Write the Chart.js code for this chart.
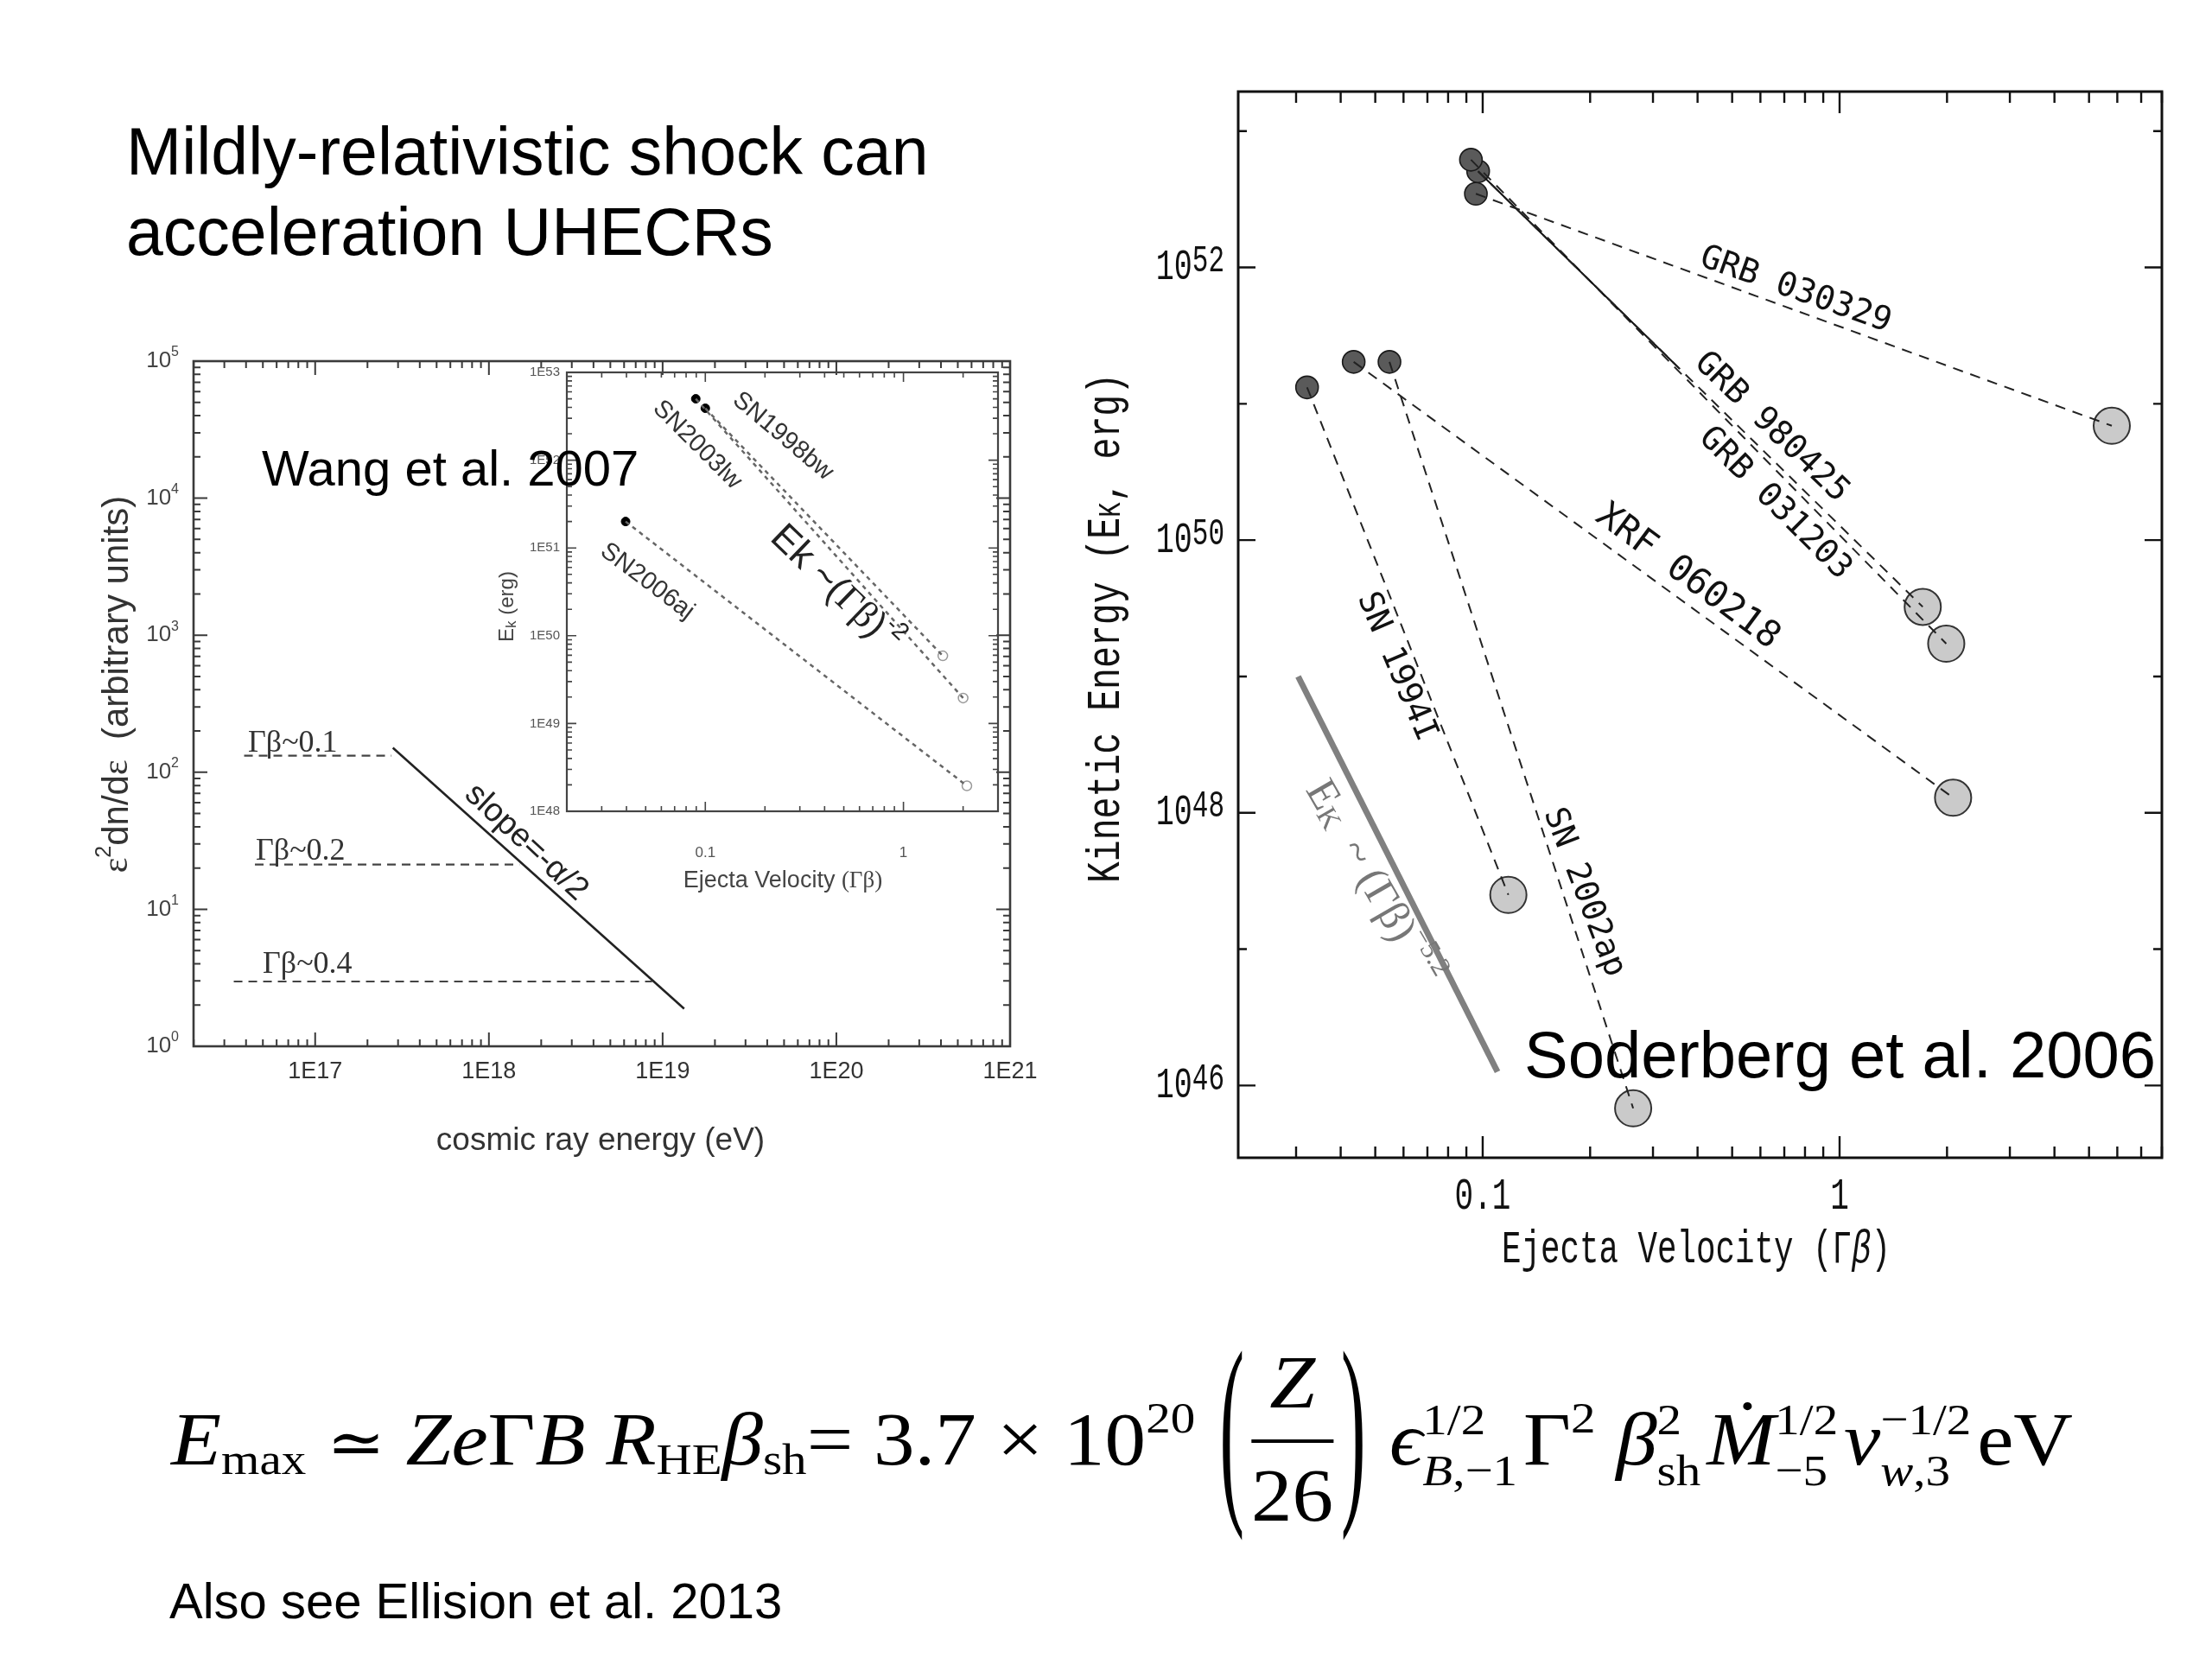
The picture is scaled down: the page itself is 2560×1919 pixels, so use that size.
<!DOCTYPE html>
<html>
<head>
<meta charset="utf-8">
<script src="https://cdn.jsdelivr.net/npm/chart.js@4.4.1/dist/chart.umd.min.js"></script>
<style>
html,body{margin:0;padding:0;background:#fff;}
body{width:2560px;height:1919px;position:relative;overflow:hidden;}
canvas{position:absolute;left:0;top:0;}
.txt{position:absolute;top:0;white-space:nowrap;font-family:"Liberation Sans",Arial,sans-serif;color:#000;line-height:1;}
#formula{font-family:"Liberation Serif","DejaVu Serif",serif;font-size:86px;transform-origin:0 0;}
#formula .sb{font-size:0.6em;vertical-align:-0.22em;}
#formula .sp{font-size:0.6em;vertical-align:0.72em;}
#formula .ss{display:inline-block;font-size:0.6em;line-height:1.15;vertical-align:-0.47em;text-align:left;margin-right:0.12em;}
#formula .ss>span{display:block;}
#formula .eq{font-size:0.85em;}
#formula .par{display:inline-block;font-size:0.6em;line-height:1;transform:translateY(-27px) scale(1.5,4.67);margin:0 8px;}
#formula .frac{display:inline-block;vertical-align:-65px;text-align:center;line-height:86px;margin:0 4px;}
#formula .num{display:block;padding:0 4px 23px;border-bottom:4px solid #000;}
#formula .den{display:block;padding-top:18px;}
</style>
</head>
<body>
<canvas id="cLeft" width="2560" height="1919"></canvas>
<canvas id="cInset" width="2560" height="1919"></canvas>
<canvas id="cRight" width="2560" height="1919"></canvas>

<div class="txt" data-base="202" style="left:146px;font-size:77px;">Mildly-relativistic shock can</div>
<div class="txt" data-base="295" style="left:146px;font-size:77px;">acceleration UHECRs</div>
<div class="txt" data-base="562" style="left:303px;font-size:58px;">Wang et al. 2007</div>
<div class="txt" data-base="1247" style="left:1764px;font-size:76px;">Soderberg et al. 2006</div>
<div class="txt" data-base="1873" style="left:196px;font-size:58px;">Also see Ellision et al. 2013</div>
<div class="txt" id="formula" data-base="1695" style="left:198px;"><i>E</i><span class="sb">max</span> <span class="eq">≃</span> <i>Ze</i>Γ<i>B</i> <i>R</i><span class="sb">HE</span><i>β</i><span class="sb">sh</span>= 3.7 × 10<span class="sp">20</span> <span class="par">(</span><span class="frac"><span class="num"><i>Z</i></span><span class="den">26</span></span><span class="par">)</span> <i>ϵ</i><span class="ss"><span>1/2</span><span><i>B</i>,−1</span></span>Γ<span class="sp">2</span> <i>β</i><span class="ss"><span>2</span><span>sh</span></span><i>Ṁ</i><span class="ss"><span>1/2</span><span>−5</span></span><i>v</i><span class="ss"><span>−1/2</span><span><i>w</i>,3</span></span>eV</div>

<script>
// ---------------- DATA ----------------
// Left panel (Wang et al. 2007): cosmic-ray spectra
const energyTicks = [1e17, 1e18, 1e19, 1e20, 1e21];
const energyTickLabels = ['1E17', '1E18', '1E19', '1E20', '1E21'];
const spectrumTicks = [1, 10, 100, 1000, 1e4, 1e5];
const spectrumTickExps = ['0', '1', '2', '3', '4', '5'];
const gb01Energy = [3.9e16, 2.75e17];
const gb01Flux = [132, 132];
const gb02Energy = [4.5e16, 1.5e18];
const gb02Flux = [21.2, 21.2];
const gb04Energy = [3.4e16, 8.7e18];
const gb04Flux = [2.97, 2.97];
const slopeEnergy = [2.8e17, 1.33e19];
const slopeFlux = [151, 1.88];

// Inset (Wang et al. 2007): Ek vs ejecta velocity
const insetVelTicks = [0.1, 1];
const insetVelTickLabels = ['0.1', '1'];
const insetEkTicks = [1e48, 1e49, 1e50, 1e51, 1e52, 1e53];
const insetEkTickLabels = ['1E48', '1E49', '1E50', '1E51', '1E52', '1E53'];
const sn1998bwVel = [0.1, 1.58];
const sn1998bwEk = [3.9e52, 5.9e49];
const sn2003lwVel = [0.0895, 2.0];
const sn2003lwEk = [5.0e52, 1.95e49];
const sn2006ajVel = [0.0396, 2.09];
const sn2006ajEk = [2.0e51, 1.95e48];

// Right panel (Soderberg et al. 2006)
const velTicks = [0.1, 1];
const velTickLabels = ['0.1', '1'];
const ekDecades = [1e46, 1e47, 1e48, 1e49, 1e50, 1e51, 1e52, 1e53];
const ekLabelTicks = [1e46, 1e48, 1e50, 1e52];
const ekLabelExps = ['46', '48', '50', '52'];
const grb030329Vel = [0.0957, 5.79];
const grb030329Ek = [3.47e52, 6.9e50];
const grb980425Vel = [0.0971, 1.71];
const grb980425Ek = [5.07e52, 3.24e49];
const grb980425SolidVel = [0.0971, 0.356];
const grb980425SolidEk = [5.07e52, 1.81e51];
const grb031203Vel = [0.0927, 1.99];
const grb031203Ek = [6.17e52, 1.74e49];
const xrf060218Vel = [0.0435, 2.08];
const xrf060218Ek = [2.03e51, 1.29e48];
const sn1994IVel = [0.0322, 0.118];
const sn1994IEk = [1.32e51, 2.5e47];
const sn2002apVel = [0.0548, 0.264];
const sn2002apEk = [2.03e51, 6.8e45];
const powerLawVel = [0.0304, 0.110];
const powerLawEk = [1.0e49, 1.26e46];

// ---------------- HELPERS ----------------
const SANS = '"Liberation Sans", Arial, sans-serif';
const SERIF = '"Liberation Serif", "DejaVu Serif", serif';
const MONO = '"Liberation Mono", "DejaVu Sans Mono", monospace';
const SMONO = '"DejaVu Sans Mono", monospace';

function pts(xs, ys) { return xs.map((x, i) => ({x: x, y: ys[i]})); }
function lineDs(xs, ys, color, width, dash) {
  return {data: pts(xs, ys), showLine: true, borderColor: color, borderWidth: width,
    borderDash: dash || [], pointRadius: 0, fill: false, tension: 0, order: 0};
}
function markerDs(points, r, bg, border, bw) {
  return {data: points, showLine: false, pointRadius: r, pointHoverRadius: r,
    pointBackgroundColor: bg, pointBorderColor: border, pointBorderWidth: bw, order: 1};
}
function logTicks(min, max, majorLen, minorLen) {
  const out = [];
  for (let d = Math.floor(Math.log10(min)); d <= Math.ceil(Math.log10(max)); d++) {
    for (let m = 1; m <= 9; m++) {
      const v = m * Math.pow(10, d);
      if (v < min * 0.9999 || v > max * 1.0001) continue;
      out.push([v, m === 1 ? majorLen : minorLen]);
    }
  }
  return out;
}
function rich(ctx, o) {
  ctx.save();
  ctx.translate(o.x, o.y);
  if (o.rot) ctx.rotate(o.rot * Math.PI / 180);
  if (o.stretch) ctx.scale(1, o.stretch);
  ctx.textBaseline = o.baseline || 'middle';
  ctx.textAlign = 'left';
  let w = 0;
  const parts = o.segs.map(s => {
    const f = (s.style || o.style || '') + ' ' + (s.weight || o.weight || '') + ' ' + (s.size || o.size) + 'px ' + (s.family || o.family);
    ctx.font = f;
    const m = ctx.measureText(s.t).width;
    w += m;
    return [f, m];
  });
  let cx = o.align === 'center' ? -w / 2 : (o.align === 'right' ? -w : 0);
  o.segs.forEach((s, i) => {
    ctx.font = parts[i][0];
    ctx.fillStyle = s.color || o.color || '#000';
    ctx.fillText(s.t, cx, s.dy || 0);
    cx += parts[i][1];
  });
  ctx.restore();
}
function makeFrame(cfg) {
  return {
    id: 'sciFrame',
    afterDatasetsDraw(chart) {
      const ctx = chart.ctx, a = chart.chartArea, x = chart.scales.x, y = chart.scales.y;
      ctx.save();
      ctx.strokeStyle = cfg.color;
      ctx.lineWidth = cfg.tickWidth;
      ctx.beginPath();
      cfg.xTicks.forEach(([v, len]) => {
        const p = x.getPixelForValue(v);
        ctx.moveTo(p, a.bottom); ctx.lineTo(p, a.bottom - len);
        ctx.moveTo(p, a.top); ctx.lineTo(p, a.top + len);
      });
      cfg.yTicks.forEach(([v, len]) => {
        const p = y.getPixelForValue(v);
        ctx.moveTo(a.left, p); ctx.lineTo(a.left + len, p);
        ctx.moveTo(a.right, p); ctx.lineTo(a.right - len, p);
      });
      ctx.stroke();
      ctx.lineWidth = cfg.borderWidth;
      ctx.strokeRect(a.left, a.top, a.right - a.left, a.bottom - a.top);
      (cfg.xLabels || []).forEach(l => rich(ctx, Object.assign({}, cfg.xLabelStyle, l, {x: x.getPixelForValue(l.v), y: cfg.xLabelY})));
      (cfg.yLabels || []).forEach(l => rich(ctx, Object.assign({}, cfg.yLabelStyle, l, {x: cfg.yLabelX, y: y.getPixelForValue(l.v)})));
      (cfg.texts || []).forEach(t => rich(ctx, t));
      ctx.restore();
    }
  };
}
function makeChart(id, padding, xr, yr, datasets, frame) {
  return new Chart(document.getElementById(id), {
    type: 'scatter',
    data: {datasets: datasets},
    options: {
      responsive: false, maintainAspectRatio: false, devicePixelRatio: 1, animation: false, events: [],
      layout: {padding: padding},
      scales: {
        x: {type: 'logarithmic', display: false, min: xr[0], max: xr[1], bounds: 'data'},
        y: {type: 'logarithmic', display: false, min: yr[0], max: yr[1], bounds: 'data'}
      },
      plugins: {legend: {display: false}, tooltip: {enabled: false}}
    },
    plugins: [makeFrame(frame)]
  });
}

// ---------------- LEFT PANEL ----------------
const L = {xMin: 1.995e16, xMax: 1e21, yMin: 1, yMax: 1e5};
makeChart('cLeft', {left: 224, top: 418, right: 2560 - 1169, bottom: 1919 - 1211},
  [L.xMin, L.xMax], [L.yMin, L.yMax],
  [
    lineDs(gb01Energy, gb01Flux, '#444', 2.2, [10, 7]),
    lineDs(gb02Energy, gb02Flux, '#444', 2.2, [10, 7]),
    lineDs(gb04Energy, gb04Flux, '#444', 2.2, [10, 7]),
    lineDs(slopeEnergy, slopeFlux, '#222', 2.6, [])
  ],
  {
    color: '#3a3a3a', tickWidth: 2, borderWidth: 2.6,
    xTicks: logTicks(L.xMin, L.xMax, 16, 8),
    yTicks: logTicks(L.yMin, L.yMax, 16, 8),
    xLabelY: 1241,
    xLabelStyle: {family: SANS, size: 27, color: '#333', align: 'center'},
    xLabels: energyTicks.map((v, i) => ({v: v, segs: [{t: energyTickLabels[i]}]})),
    yLabelX: 207,
    yLabelStyle: {family: SANS, size: 26, color: '#444', align: 'right'},
    yLabels: spectrumTicks.map((v, i) => ({v: v, segs: [{t: '10'}, {t: spectrumTickExps[i], size: 16, dy: -10}]})),
    texts: [
      {x: 287, y: 870, baseline: 'alphabetic', family: SERIF, size: 36, color: '#333', segs: [{t: 'Γβ~0.1'}]},
      {x: 296, y: 995, baseline: 'alphabetic', family: SERIF, size: 36, color: '#333', segs: [{t: 'Γβ~0.2'}]},
      {x: 304, y: 1126, baseline: 'alphabetic', family: SERIF, size: 36, color: '#333', segs: [{t: 'Γβ~0.4'}]},
      {x: 609, y: 975, rot: 43, align: 'center', family: SANS, size: 38, color: '#222', segs: [{t: 'slope=-α/2'}]},
      {x: 695, y: 1321, align: 'center', family: SANS, size: 37, color: '#333', segs: [{t: 'cosmic ray energy (eV)'}]},
      {x: 136, y: 792, rot: -90, align: 'center', family: SANS, size: 42, color: '#333',
        segs: [{t: 'ε', family: SERIF}, {t: '2', size: 25, dy: -15}, {t: 'dn/d'}, {t: 'ε', family: SERIF}, {t: '  (arbitrary units)'}]}
    ]
  });

// ---------------- INSET ----------------
const I = {xMin: 0.02, xMax: 3, yMin: 1e48, yMax: 1e53};
makeChart('cInset', {left: 656, top: 431, right: 2560 - 1155, bottom: 1919 - 939},
  [I.xMin, I.xMax], [I.yMin, I.yMax],
  [
    lineDs(sn1998bwVel, sn1998bwEk, '#666', 2.5, [5, 5]),
    lineDs(sn2003lwVel, sn2003lwEk, '#666', 2.5, [5, 5]),
    lineDs(sn2006ajVel, sn2006ajEk, '#666', 2.5, [5, 5]),
    markerDs([pts(sn1998bwVel, sn1998bwEk)[0], pts(sn2003lwVel, sn2003lwEk)[0], pts(sn2006ajVel, sn2006ajEk)[0]], 5, '#000', '#000', 1),
    markerDs([pts(sn1998bwVel, sn1998bwEk)[1], pts(sn2003lwVel, sn2003lwEk)[1], pts(sn2006ajVel, sn2006ajEk)[1]], 5.5, '#fff', '#999', 1.5)
  ],
  {
    color: '#444', tickWidth: 1.6, borderWidth: 2.2,
    xTicks: logTicks(I.xMin, I.xMax, 11, 6),
    yTicks: logTicks(I.yMin, I.yMax, 11, 6),
    xLabelY: 987,
    xLabelStyle: {family: SANS, size: 17, color: '#555', align: 'center'},
    xLabels: insetVelTicks.map((v, i) => ({v: v, segs: [{t: insetVelTickLabels[i]}]})),
    yLabelX: 648,
    yLabelStyle: {family: SANS, size: 15, color: '#555', align: 'right'},
    yLabels: insetEkTicks.map((v, i) => ({v: v, segs: [{t: insetEkTickLabels[i]}]})),
    texts: [
      {x: 906, y: 1020, align: 'center', family: SANS, size: 27, color: '#444', segs: [{t: 'Ejecta Velocity '}, {t: '(Γβ)', family: SERIF}]},
      {x: 587, y: 702, rot: -90, align: 'center', family: SANS, size: 24, color: '#444', segs: [{t: 'E'}, {t: 'k', size: 17, dy: 5}, {t: ' (erg)'}]},
      {x: 906, y: 505, rot: 40, align: 'center', family: SANS, size: 29, color: '#333', segs: [{t: 'SN1998bw'}]},
      {x: 807, y: 515, rot: 45, align: 'center', family: SANS, size: 29, color: '#333', segs: [{t: 'SN2003lw'}]},
      {x: 749, y: 673, rot: 37, align: 'center', family: SANS, size: 29, color: '#333', segs: [{t: 'SN2006aj'}]},
      {x: 967, y: 682, rot: 44, align: 'center', family: SANS, size: 44, color: '#222',
        segs: [{t: 'Ek ~('}, {t: 'Γβ', family: SERIF}, {t: ')'}, {t: '-2', size: 28, dy: -16}]}
    ]
  });

// ---------------- RIGHT PANEL ----------------
const R = {xMin: 0.02065, xMax: 8.0, yMin: 2.95e45, yMax: 1.95e53};
const starts = [grb030329Vel, grb980425Vel, grb031203Vel, xrf060218Vel, sn1994IVel, sn2002apVel];
const startsEk = [grb030329Ek, grb980425Ek, grb031203Ek, xrf060218Ek, sn1994IEk, sn2002apEk];
const darkPoints = starts.map((v, i) => ({x: v[0], y: startsEk[i][0]}));
const lightPoints = starts.map((v, i) => ({x: v[1], y: startsEk[i][1]}));
const DASH = [12, 9];
makeChart('cRight', {left: 1433, top: 106, right: 2560 - 2502, bottom: 1919 - 1340},
  [R.xMin, R.xMax], [R.yMin, R.yMax],
  [
    lineDs(grb030329Vel, grb030329Ek, '#222', 2, DASH),
    lineDs(grb980425Vel, grb980425Ek, '#222', 2, DASH),
    lineDs(grb980425SolidVel, grb980425SolidEk, '#111', 2, []),
    lineDs(grb031203Vel, grb031203Ek, '#222', 2, DASH),
    lineDs(xrf060218Vel, xrf060218Ek, '#222', 2, DASH),
    lineDs(sn1994IVel, sn1994IEk, '#222', 2, DASH),
    lineDs(sn2002apVel, sn2002apEk, '#222', 2, DASH),
    lineDs(powerLawVel, powerLawEk, '#808080', 7, []),
    markerDs(darkPoints, 13, '#5a5a5a', '#1a1a1a', 1.6),
    markerDs(lightPoints, 21, '#cacaca', '#333', 2)
  ],
  {
    color: '#111', tickWidth: 2.4, borderWidth: 3,
    xTicks: logTicks(R.xMin, R.xMax, 25, 13),
    yTicks: ekDecades.map(v => [v, ekLabelTicks.indexOf(v) >= 0 ? 20 : 10]),
    xLabelY: 1385,
    xLabelStyle: {family: MONO, size: 36, stretch: 1.45, color: '#111', align: 'center'},
    xLabels: velTicks.map((v, i) => ({v: v, segs: [{t: velTickLabels[i]}]})),
    yLabelX: 1417,
    yLabelStyle: {family: MONO, size: 35, stretch: 1.45, color: '#111', align: 'right'},
    yLabels: ekLabelTicks.map((v, i) => ({v: v, segs: [{t: '10'}, {t: ekLabelExps[i], size: 31, dy: -5}]})),
    texts: [
      {x: 1963, y: 1447, align: 'center', family: MONO, size: 37.5, stretch: 1.45, color: '#111',
        segs: [{t: 'Ejecta Velocity (Γ'}, {t: 'β', style: 'italic'}, {t: ')'}]},
      {x: 1281, y: 727, rot: -90, align: 'center', family: MONO, size: 41.5, stretch: 1.3, color: '#111',
        segs: [{t: 'Kinetic Energy (E'}, {t: 'K', size: 29, dy: 4}, {t: ', erg)'}]},
      {x: 2078, y: 336, rot: 19.5, align: 'center', family: SMONO, size: 38.5, color: '#111', segs: [{t: 'GRB 030329'}]},
      {x: 2050, y: 495, rot: 44, align: 'center', family: SMONO, size: 38.5, color: '#111', segs: [{t: 'GRB 980425'}]},
      {x: 2054, y: 583, rot: 45, align: 'center', family: SMONO, size: 38.5, color: '#111', segs: [{t: 'GRB 031203'}]},
      {x: 1953, y: 668, rot: 36.5, align: 'center', family: SMONO, size: 42, color: '#111', segs: [{t: 'XRF 060218'}]},
      {x: 1616, y: 772, rot: 67, align: 'center', family: SMONO, size: 38, color: '#111', segs: [{t: 'SN 1994I'}]},
      {x: 1833, y: 1033, rot: 69, align: 'center', family: SMONO, size: 38, color: '#111', segs: [{t: 'SN 2002ap'}]},
      {x: 1588, y: 1022, rot: 60, align: 'center', family: SERIF, size: 50, color: '#777',
        segs: [{t: 'E'}, {t: 'K', size: 33, dy: 8}, {t: '  ~ ('}, {t: 'Γβ'}, {t: ')'}, {t: '−5.2', size: 32, dy: -18}]}
    ]
  });

// ---------------- place HTML text by baseline ----------------
const formula = document.getElementById('formula');
const fw = formula.getBoundingClientRect().width;
formula.style.transform = 'scaleX(' + (2201 / fw).toFixed(4) + ')';
document.querySelectorAll('[data-base]').forEach(el => {
  const m = document.createElement('span');
  m.style.cssText = 'display:inline-block;width:0;height:0;vertical-align:baseline;';
  el.insertBefore(m, el.firstChild);
  el.style.top = '0px';
  const b = m.getBoundingClientRect().top;
  el.style.top = (parseFloat(el.dataset.base) - b) + 'px';
});
</script>
</body>
</html>
